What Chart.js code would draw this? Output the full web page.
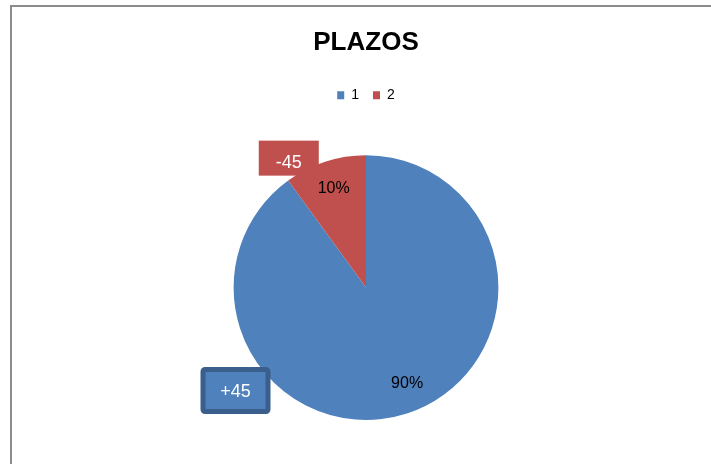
<!DOCTYPE html>
<html>
<head>
<meta charset="utf-8">
<script src="https://cdn.jsdelivr.net/npm/chart.js@4/dist/chart.umd.min.js"></script>
<style>
  html, body { margin: 0; padding: 0; background: #fff; overflow: hidden; }
  #wrap { position: relative; width: 711px; height: 464px; }
  #frame { position: absolute; left: 10px; top: 5px; width: 720px; height: 480px;
           border-top: 2px solid #8c8c8c; border-left: 2px solid #8c8c8c; }
  canvas { position: absolute; left: 0; top: 0; }
</style>
</head>
<body>
<div id="wrap">
  <div id="frame"></div>
  <canvas id="chart" width="711" height="464"></canvas>
</div>
<script>
// Office 2007 palette, as in the original spreadsheet
const BLUE = "#4f81bd";
const RED = "#c0504d";

const categories = ["1", "2"];
const shares = [90, 10];
const sliceLabels = ["90%", "10%"];
const calloutTexts = ["+45", "-45"];

// extra room between legend and plot
const legendGap = {
  id: "legendGap",
  beforeInit(chart) {
    const fit = chart.legend.fit;
    chart.legend.fit = function () {
      fit.bind(chart.legend)();
      this.height += 43;
    };
  },
};

// percent labels inside the slices + the two text boxes
const sliceText = {
  id: "sliceText",
  afterDatasetsDraw(chart) {
    const ctx = chart.ctx;
    const arcs = chart.getDatasetMeta(0).data;
    ctx.save();

    // "+45" box, lower-left of the pie
    const a0 = arcs[0];
    const r = a0.outerRadius;
    let bx = a0.x - r * 1.25, by = a0.y + r * 0.6;
    ctx.fillStyle = BLUE;
    ctx.strokeStyle = "#3a5f8c";
    ctx.lineWidth = 5;
    ctx.beginPath();
    ctx.roundRect(bx + 2.5, by + 2.5, 65, 42, 2);
    ctx.fill();
    ctx.stroke();
    ctx.fillStyle = "#fff";
    ctx.font = "18px 'Liberation Sans'";
    ctx.textAlign = "center";
    ctx.textBaseline = "middle";
    ctx.fillText(calloutTexts[0], bx + 35, by + 25);

    // "-45" box, top-left of the small slice
    bx = a0.x - r * 0.81; by = a0.y - r * 1.11;
    ctx.fillStyle = RED;
    ctx.fillRect(bx, by, 60, 35);
    ctx.fillStyle = "#fff";
    ctx.fillText(calloutTexts[1], bx + 30, by + 22);

    // percentage labels
    ctx.fillStyle = "#000";
    ctx.font = "16px 'Liberation Sans'";
    arcs.forEach((arc, i) => {
      const mid = (arc.startAngle + arc.endAngle) / 2 + (i === 0 ? -0.09 : 0);
      const rr = arc.outerRadius * 0.79;
      ctx.fillText(sliceLabels[i], arc.x + Math.cos(mid) * rr, arc.y + Math.sin(mid) * rr);
    });
    ctx.restore();
  },
};

new Chart(document.getElementById("chart"), {
  type: "pie",
  data: {
    labels: categories,
    datasets: [{
      data: shares,
      backgroundColor: [BLUE, RED],
      borderWidth: 0,
    }],
  },
  options: {
    responsive: false,
    animation: false,
    layout: { padding: { left: 21, right: 0, top: 0, bottom: 44 } },
    plugins: {
      tooltip: { enabled: false },
      title: {
        display: true,
        text: "PLAZOS",
        color: "#000",
        font: { family: "Liberation Sans", size: 26, weight: "bold" },
        padding: { top: 27, bottom: 16 },
      },
      legend: {
        position: "top",
        labels: {
          color: "#000",
          boxWidth: 7,
          boxHeight: 8,
          padding: 14,
          font: { family: "Liberation Sans", size: 14 },
        },
      },
    },
  },
  plugins: [legendGap, sliceText],
});
</script>
</body>
</html>
